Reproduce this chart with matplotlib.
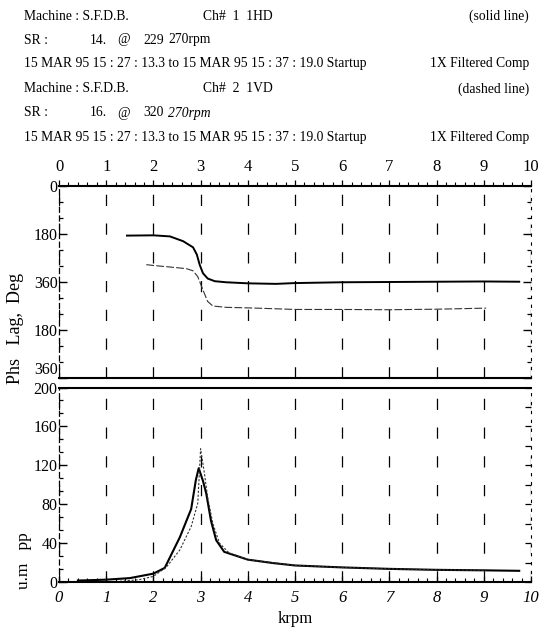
import matplotlib
matplotlib.use("Agg")
import matplotlib.pyplot as plt
from matplotlib.ticker import MultipleLocator, FixedLocator, FixedFormatter

plt.rcParams['font.family'] = ['Liberation Serif', 'DejaVu Serif']

# ---- data -------------------------------------------------------------
# Phase lag (deg, unwrapped 0..720) vs speed (krpm)
phase_ch1_krpm = [1.44, 2.0, 2.35, 2.63, 2.84, 2.92, 2.98, 3.05, 3.15, 3.3,
                  3.54, 4.0, 4.6, 5.0, 6.0, 7.0, 8.0, 9.0, 9.75]
phase_ch1_deg = [186, 185, 189, 207, 230, 257, 295, 327, 347, 357,
                 361, 365, 367, 364, 361, 360, 359, 358, 359]

phase_ch2_krpm = [1.85, 2.0, 2.42, 2.7, 2.84, 2.94, 3.05, 3.15, 3.26, 3.54,
                  4.0, 4.53, 5.0, 6.0, 7.0, 8.0, 9.05]
phase_ch2_deg = [295, 298, 305, 310, 318, 340, 390, 433, 450, 455,
                 457, 460, 463, 463, 464, 462, 458]

# Amplitude (um pp) vs speed (krpm)
amp_ch1_krpm = [0.4, 1.0, 1.5, 2.0, 2.24, 2.56, 2.8, 2.9, 2.96, 3.05, 3.12,
                3.22, 3.33, 3.5, 4.0, 4.53, 5.0, 5.5, 6.0, 7.0, 8.0, 9.0, 9.75]
amp_ch1_um = [1.5, 2.4, 4.0, 8.6, 14.5, 46, 75, 105, 117, 104, 91,
              63, 43, 31, 23, 19.5, 17, 16, 15, 13.5, 12.5, 12, 11.5]

amp_ch2_krpm = [1.29, 1.7, 2.0, 2.27, 2.56, 2.8, 2.94, 3.0, 3.08, 3.15, 3.26,
                3.4, 3.6, 4.0, 5.0, 6.0, 7.0, 8.0, 9.05]
amp_ch2_um = [0.7, 2.4, 5.8, 15, 33, 57, 81, 137, 112, 87, 60,
              40, 30, 23, 17, 15, 13.5, 12.5, 12]

x_ticks = list(range(0, 11))
x_tick_labels = [str(v) for v in x_ticks]
phase_ticks = [0, 180, 360, 540, 720]
phase_tick_labels = ['0', '180', '360', '180', '360']
amp_ticks = [0, 40, 80, 120, 160, 200]
amp_tick_labels = ['0', '40', '80', '120', '160', '200']

header_left = [
    "Machine : S.F.D.B.",
    "SR :",
    "15 MAR 95 15 : 27 : 13.3 to 15 MAR 95 15 : 37 : 19.0 Startup",
    "Machine : S.F.D.B.",
    "SR :",
    "15 MAR 95 15 : 27 : 13.3 to 15 MAR 95 15 : 37 : 19.0 Startup",
]
header_right = ["(solid line)", "", "1X Filtered Comp",
                "(dashed line)", "", "1X Filtered Comp"]
channel_text = {0: "Ch#  1  1HD", 3: "Ch#  2  1VD"}
sr_text = {1: ["14.", "@", "229", "270rpm"], 4: ["16.", "@", "320", "270rpm"]}

# ---- layout (pixel based) --------------------------------------------
W, H = 545, 628
fig = plt.figure(figsize=(W / 100, H / 100), dpi=100)


def fx(px):
    return px / W


def fy(py):
    return 1 - py / H


LEFT, RIGHT = 59, 531
ph_top, ph_bot = 186, 378
am_top, am_bot = 387.5, 582

ax_ph = fig.add_axes([fx(LEFT), fy(ph_bot), (RIGHT - LEFT) / W, (ph_bot - ph_top) / H])
ax_am = fig.add_axes([fx(LEFT), fy(am_bot), (RIGHT - LEFT) / W, (am_bot - am_top) / H])

grid_style = dict(color='black', linewidth=0.9, linestyle=(0, (9, 14)))

for ax in (ax_ph, ax_am):
    ax.set_xlim(0, 10)
    ax.xaxis.set_major_locator(FixedLocator(x_ticks))
    ax.xaxis.set_minor_locator(MultipleLocator(0.2))
    ax.grid(True, axis='x', which='major', **grid_style)
    ax.spines['left'].set_linestyle((0, (4, 3)))
    ax.spines['left'].set_linewidth(0.9)
    ax.spines['right'].set_linestyle((0, (2, 6)))
    ax.spines['right'].set_linewidth(0.8)
    ax.spines['top'].set_linewidth(1.5)
    ax.spines['bottom'].set_linewidth(1.5)
    ax.set_facecolor('none')

# ---- phase panel -------------------------------------------------------
ax_ph.set_ylim(720, 0)
ax_ph.yaxis.set_major_locator(FixedLocator(phase_ticks))
ax_ph.yaxis.set_major_formatter(FixedFormatter(phase_tick_labels))
ax_ph.yaxis.set_minor_locator(MultipleLocator(60))
ax_ph.tick_params(axis='y', which='major', direction='in', length=6, width=1.0,
                  left=True, right=True, labelsize=11.5, pad=1)
ax_ph.tick_params(axis='y', which='minor', direction='in', length=3, width=0.9,
                  left=True, right=True)
ax_ph.xaxis.set_ticks_position('top')
ax_ph.xaxis.set_label_position('top')
ax_ph.set_xticklabels(x_tick_labels)
ax_ph.tick_params(axis='x', which='major', direction='out', length=4, width=0.9,
                  top=True, bottom=False, labelsize=12, pad=4)
ax_ph.tick_params(axis='x', which='minor', direction='out', length=3, width=0.8,
                  top=True, bottom=False)

ax_ph.plot(phase_ch1_krpm, phase_ch1_deg, color='black', linewidth=1.4)
ax_ph.plot(phase_ch2_krpm, phase_ch2_deg, color='#333333', linewidth=0.8,
           linestyle=(0, (7, 2)))

# ---- amplitude panel ---------------------------------------------------
ax_am.set_ylim(0, 200)
ax_am.yaxis.set_major_locator(FixedLocator(amp_ticks))
ax_am.yaxis.set_major_formatter(FixedFormatter(amp_tick_labels))
ax_am.yaxis.set_minor_locator(MultipleLocator(40 / 3))
ax_am.tick_params(axis='y', which='major', direction='in', length=6, width=1.0,
                  left=True, right=False, labelsize=11.5, pad=1)
ax_am.tick_params(axis='y', which='minor', direction='in', length=3, width=0.9,
                  left=True, right=False)
right_ax = ax_am.secondary_yaxis('right')
right_ax.yaxis.set_major_locator(MultipleLocator(20))
right_ax.tick_params(direction='in', length=4, width=0.9, labelright=False)
right_ax.spines['right'].set_visible(False)

ax_am.set_xticklabels(x_tick_labels, fontstyle='italic')
ax_am.tick_params(axis='x', which='major', direction='in', length=4, width=0.9,
                  labelsize=12, pad=6)
ax_am.tick_params(axis='x', which='minor', direction='in', length=3, width=0.8)

ax_am.plot(amp_ch1_krpm, amp_ch1_um, color='black', linewidth=1.5)
ax_am.plot(amp_ch2_krpm, amp_ch2_um, color='#333333', linewidth=0.8,
           linestyle=(0, (2, 1.5)))

# lift the lowest phase label so it clears the amplitude "200"
ax_ph.get_yticklabels()[-1].set_va('bottom')

# ---- axis titles -------------------------------------------------------
fig.text(fx(16), fy(328), "Phs   Lag,  Deg", rotation=90, ha='center',
         va='center', fontsize=13)
fig.text(fx(24), fy(561), "u.m   pp", rotation=90, ha='center',
         va='center', fontsize=12.5)
fig.text(fx(295), fy(619), "krpm", ha='center', va='center', fontsize=12)

# ---- header block ------------------------------------------------------
row_y = [16, 40, 64, 89, 113, 137]
hdr = dict(fontsize=9.8, va='center')
for i, y in enumerate(row_y):
    fig.text(fx(24), fy(y), header_left[i], ha='left', **hdr)
    if header_right[i]:
        fig.text(fx(529), fy(y), header_right[i], ha='right', **hdr)
    if i in channel_text:
        fig.text(fx(203), fy(y), channel_text[i], ha='left', **hdr)
    if i in sr_text:
        parts = sr_text[i]
        for xp, s in zip([90, 117, 143, 168], parts):
            style = 'italic' if (i == 4 and s.endswith('rpm')) else 'normal'
            fig.text(fx(xp), fy(y), s, ha='left', fontstyle=style, **hdr)

fig.savefig("out.png", dpi=100)
